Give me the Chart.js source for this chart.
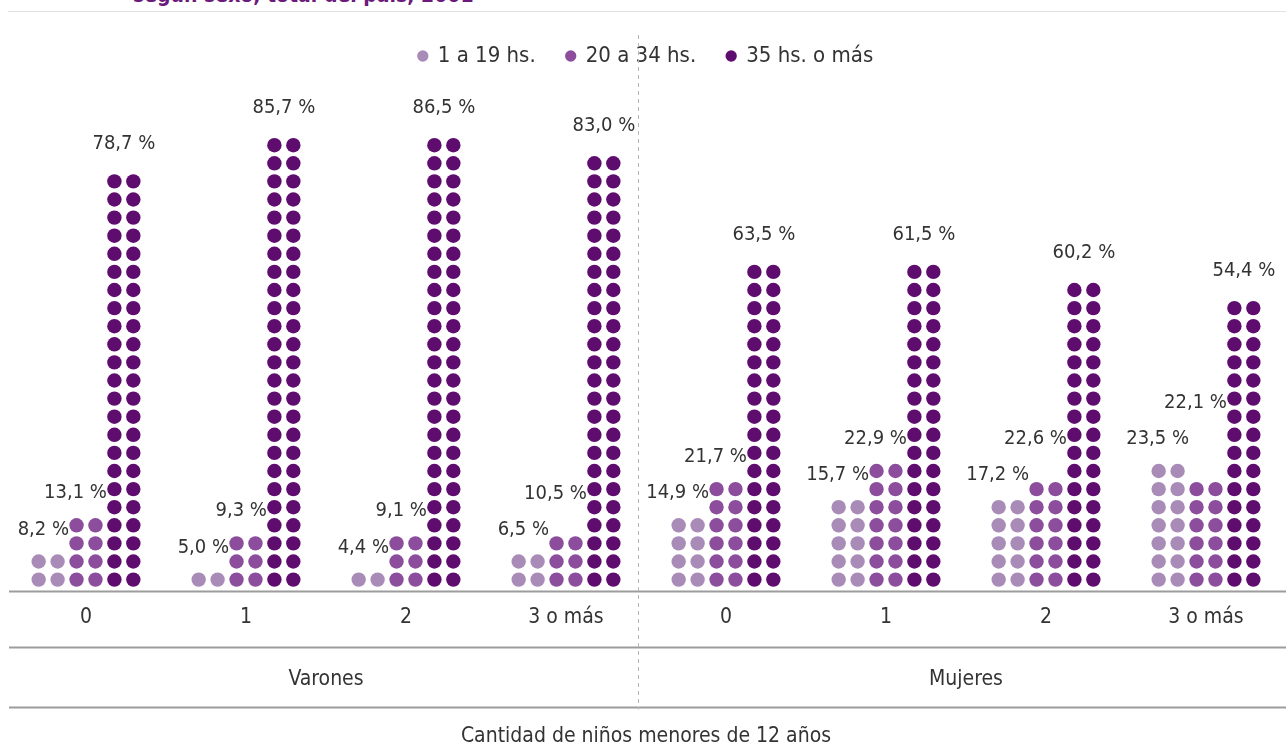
<!DOCTYPE html>
<html lang="es">
<head>
  <meta charset="UTF-8" />
  <title>Horas trabajadas según cantidad de niños</title>
  <script src="https://cdn.jsdelivr.net/npm/chart.js"></script>
  <style>
    body { margin: 0; background: #fff; overflow: hidden; }
    #wrap { position: relative; width: 1286px; height: 749px; overflow: hidden; }
    #subtitle {
      position: absolute; top: -17px; left: 133px;
      font: bold 21px "Liberation Sans Narrow", "DejaVu Sans Condensed", sans-serif;
      color: #6b1a7b; white-space: nowrap;
    }
    #rule { position: absolute; top: 11px; left: 8px; right: 0; height: 1px; background: #e2e2e2; }
    #box { position: absolute; left: 0; top: 0; width: 1286px; height: 749px; }
  </style>
</head>
<body>
  <div id="wrap">
    <div id="subtitle">según sexo, total del país, 2001</div>
    <div id="rule"></div>
    <div id="box"><canvas id="chart"></canvas></div>
  </div>

  <script>
    // datos
    const categories = ['0', '1', '2', '3 o más', '0', '1', '2', '3 o más'];
    const groups = ['Varones', 'Mujeres'];
    const seriesNames = ['1 a 19 hs.', '20 a 34 hs.', '35 hs. o más'];
    const horas1a19 = [8.2, 5.0, 4.4, 6.5, 14.9, 15.7, 17.2, 23.5];
    const horas20a34 = [13.1, 9.3, 9.1, 10.5, 21.7, 22.9, 22.6, 22.1];
    const horas35mas = [78.7, 85.7, 86.5, 83.0, 63.5, 61.5, 60.2, 54.4];
    const axisTitle = 'Cantidad de niños menores de 12 años';

    const colors = ['#a98bb8', '#8b4d9c', '#5e0c6e'];
    const FONT = '"Liberation Sans Narrow", "DejaVu Sans Condensed", sans-serif';
    const TEXT = '#333333';

    const STEP = 18.1;   // distancia entre puntos
    const R = 7.2;       // radio de cada punto
    const GAP = 12;      // centro del primer punto sobre la base

    function fmt(v) {
      return v.toFixed(1).replace('.', ',') + ' %';
    }

    const dotPlugin = {
      id: 'dots',
      beforeDatasetDraw() {
        return false; // las barras se dibujan como puntos
      },
      afterDatasetsDraw(chart) {
        const ctx = chart.ctx;
        const lightY = [];
        ctx.save();
        chart.data.datasets.forEach((ds, di) => {
          const meta = chart.getDatasetMeta(di);
          meta.data.forEach((bar, i) => {
            const h = bar.base - bar.y;
            const n = Math.max(1, Math.round(h / STEP));
            const dx = bar.width / 4;
            ctx.fillStyle = ds.backgroundColor;
            for (let r = 0; r < n; r++) {
              const cy = bar.base - GAP - r * STEP;
              [-dx, dx].forEach(off => {
                ctx.beginPath();
                ctx.arc(bar.x + off, cy, R, 0, Math.PI * 2);
                ctx.fill();
              });
            }
            const topEdge = bar.base - GAP - (n - 1) * STEP - R;
            ctx.fillStyle = TEXT;
            ctx.font = '20px ' + FONT;
            ctx.textBaseline = 'middle';
            if (di === 2) {
              ctx.textAlign = 'center';
              ctx.fillText(fmt(ds.data[i]), bar.x, topEdge - 30);
            } else {
              let y = topEdge - 25;
              if (di === 0) lightY[i] = y;
              else y = Math.min(y, lightY[i] - 36);
              ctx.textAlign = 'right';
              ctx.fillText(fmt(ds.data[i]), bar.x + bar.width / 2 + 2, y);
            }
          });
        });
        ctx.restore();
      },
      afterDraw(chart) {
        const ctx = chart.ctx;
        const x = chart.scales.x;
        const base = chart.chartArea.bottom;
        ctx.save();
        // líneas horizontales
        ctx.strokeStyle = '#9c9c9c';
        ctx.lineWidth = 2;
        [0, 56, 116].forEach(off => {
          ctx.beginPath();
          ctx.moveTo(9, base + off);
          ctx.lineTo(chart.width, base + off);
          ctx.stroke();
        });
        // divisor entre varones y mujeres
        const xd = Math.round(x.getPixelForValue(3.45)) + 0.5;
        ctx.strokeStyle = '#b8b8b8';
        ctx.lineWidth = 1;
        ctx.setLineDash([4, 4]);
        ctx.beginPath();
        ctx.moveTo(xd, 35);
        ctx.lineTo(xd, base + 118);
        ctx.stroke();
        ctx.setLineDash([]);
        // grupos
        ctx.fillStyle = TEXT;
        ctx.font = '21px ' + FONT;
        ctx.textAlign = 'center';
        ctx.textBaseline = 'middle';
        groups.forEach((g, gi) => {
          ctx.fillText(g, x.getPixelForValue(gi * 4 + 1.5), base + 88);
        });
        ctx.restore();
      }
    };

    new Chart(document.getElementById('chart'), {
      type: 'bar',
      data: {
        labels: categories,
        datasets: [
          { label: seriesNames[0], data: horas1a19, backgroundColor: colors[0] },
          { label: seriesNames[1], data: horas20a34, backgroundColor: colors[1] },
          { label: seriesNames[2], data: horas35mas, backgroundColor: colors[2] }
        ]
      },
      options: {
        responsive: true,
        maintainAspectRatio: false,
        animation: false,
        layout: { padding: { top: 14, left: 6, right: 0, bottom: 0 } },
        datasets: { bar: { categoryPercentage: 0.71, barPercentage: 1.0 } },
        plugins: {
          legend: {
            position: 'top',
            labels: {
              usePointStyle: true,
              pointStyle: 'circle',
              boxWidth: 8,
              boxHeight: 8,
              padding: 31,
              color: TEXT,
              font: { family: FONT, size: 22 }
            }
          },
          tooltip: { enabled: false }
        },
        scales: {
          x: {
            grid: { display: false, drawTicks: false },
            border: { display: false },
            ticks: { color: TEXT, padding: 13, font: { family: FONT, size: 21 } },
            title: {
              display: true,
              text: axisTitle,
              color: TEXT,
              font: { family: FONT, size: 21 },
              padding: { top: 81, bottom: 0 }
            }
          },
          y: {
            display: false,
            min: 0,
            max: 99
          }
        }
      },
      plugins: [dotPlugin]
    });
  </script>
</body>
</html>
